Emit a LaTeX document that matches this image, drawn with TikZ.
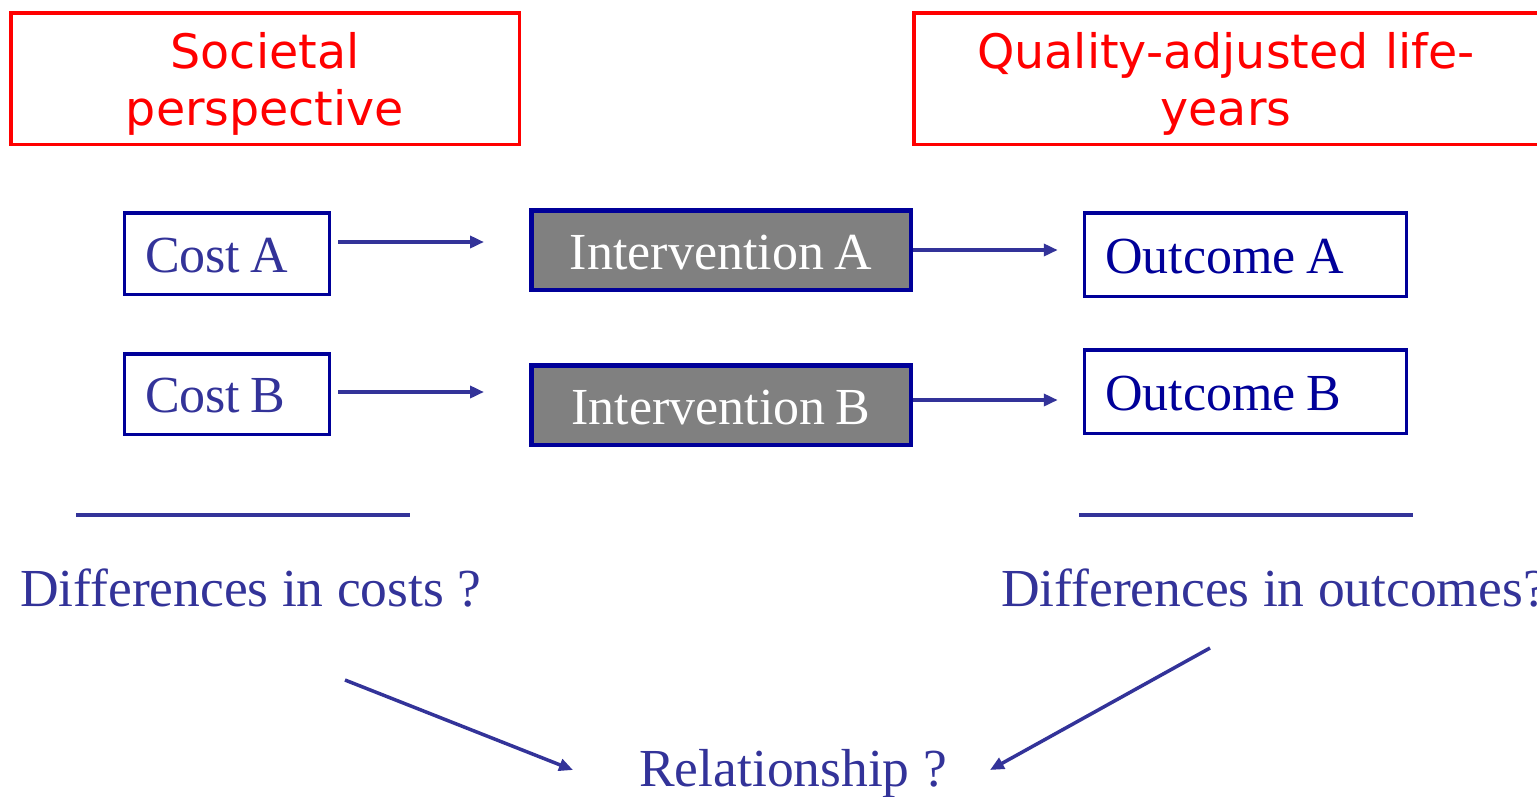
\documentclass[tikz,border=0pt]{standalone}
\usepackage{fontspec}
\setmainfont{Liberation Serif}[WordSpace=0.8]
\newfontfamily\lowserif{Liberation Serif}
\newfontfamily\verd{DejaVu Sans}[WordSpace=1.1]
\usetikzlibrary{arrows.meta,calc}
\definecolor{navy}{HTML}{000099}
\definecolor{ablue}{HTML}{333399}
\definecolor{pred}{HTML}{FF0000}
\definecolor{igray}{HTML}{808080}
\begin{document}
\begin{tikzpicture}[x=1pt,y=-1pt,
  redbox/.style={draw=pred,line width=3.5pt,rectangle,minimum height=131.5pt,inner sep=0pt},
  redtext/.style={text=pred,font=\verd\fontsize{47.5}{57}\selectfont,inner sep=0pt,anchor=base},
  bluebox/.style={draw=navy,line width=3.5pt,rectangle,inner xsep=20.5pt,inner ysep=0pt,
    align=flush left,text height=37pt,text depth=0pt,font=\fontsize{52}{60}\selectfont},
  intbox/.style={draw=navy,fill=igray,line width=4.5pt,rectangle,minimum width=379.5pt,minimum height=79.5pt,
    inner sep=0pt,text=white,text height=38pt,text depth=0pt,font=\fontsize{52}{60}\selectfont},
  plaintext/.style={text=ablue,inner sep=0pt,font=\lowserif\fontsize{53.5}{60}\selectfont},
  arr/.style={draw=ablue,line width=3.5pt,-{Triangle[length=14pt,width=12pt]}},
  rule/.style={draw=ablue,line width=3.5pt}
]
\useasboundingbox[fill=white] (0,0) rectangle (1537,796);

% red header boxes
\node[redbox,minimum width=508.5pt] (soc) at (265,78.5) {};
\node[redtext] (soc1) at (265,68) {Societal};
\node[redtext] (soc2) at (265,125) {perspective};
\node[redbox,minimum width=624.5pt] (qaly) at (1226,78.5) {};
\node[redtext] (qaly1) at (1226,68) {Quality-adjusted life-};
\node[redtext] (qaly2) at (1226,125) {years};

% cost boxes
\node[bluebox,text=ablue,minimum height=81.5pt,text width=164pt] (costA) at (227,253.5) {Cost A};
\node[bluebox,text=ablue,minimum height=80.5pt,text width=164pt] (costB) at (227,394) {Cost B};

% intervention boxes
\node[intbox] (intA) at (721,250) {Intervention A};
\node[intbox] (intB) at (721,405) {Intervention B};

% outcome boxes
\node[bluebox,text=navy,minimum height=83.5pt,text width=281pt] (outA) at (1245.5,254.5) {Outcome A};
\node[bluebox,text=navy,minimum height=83.5pt,text width=281pt] (outB) at (1245.5,391.5) {Outcome B};

% arrows
\draw[arr,shorten <=7pt,shorten >=45pt] ([yshift=11.5pt]costA.east) -- ([yshift=8pt]intA.west);
\draw[arr,shorten <=7pt,shorten >=45pt] ([yshift=2pt]costB.east) -- ([yshift=13pt]intB.west);
\draw[arr,shorten >=25pt] (intA.east) -- ([yshift=4.5pt]outA.west);
\draw[arr,shorten >=25pt] ([yshift=5pt]intB.east) -- ([yshift=-8.5pt]outB.west);

% rules
\draw[rule] (76,515) -- (410,515);
\draw[rule] (1079,515) -- (1413,515);

% lower texts
\node[plaintext,anchor=base west] (diffC) at (20,606) {Differences in costs ?};
\node[plaintext,anchor=base west] (diffO) at (1001,606) {Differences in outcomes?};
\node[plaintext,anchor=base west] (rel) at (639,786) {Relationship ?};

\coordinate (c1) at (345,680);
\coordinate (c2) at (1210,648);
\draw[arr] (c1) -- ([xshift=-66pt,yshift=16pt]rel.base west);
\draw[arr] (c2) -- ([xshift=43pt,yshift=16pt]rel.base east);
\end{tikzpicture}
\end{document}
